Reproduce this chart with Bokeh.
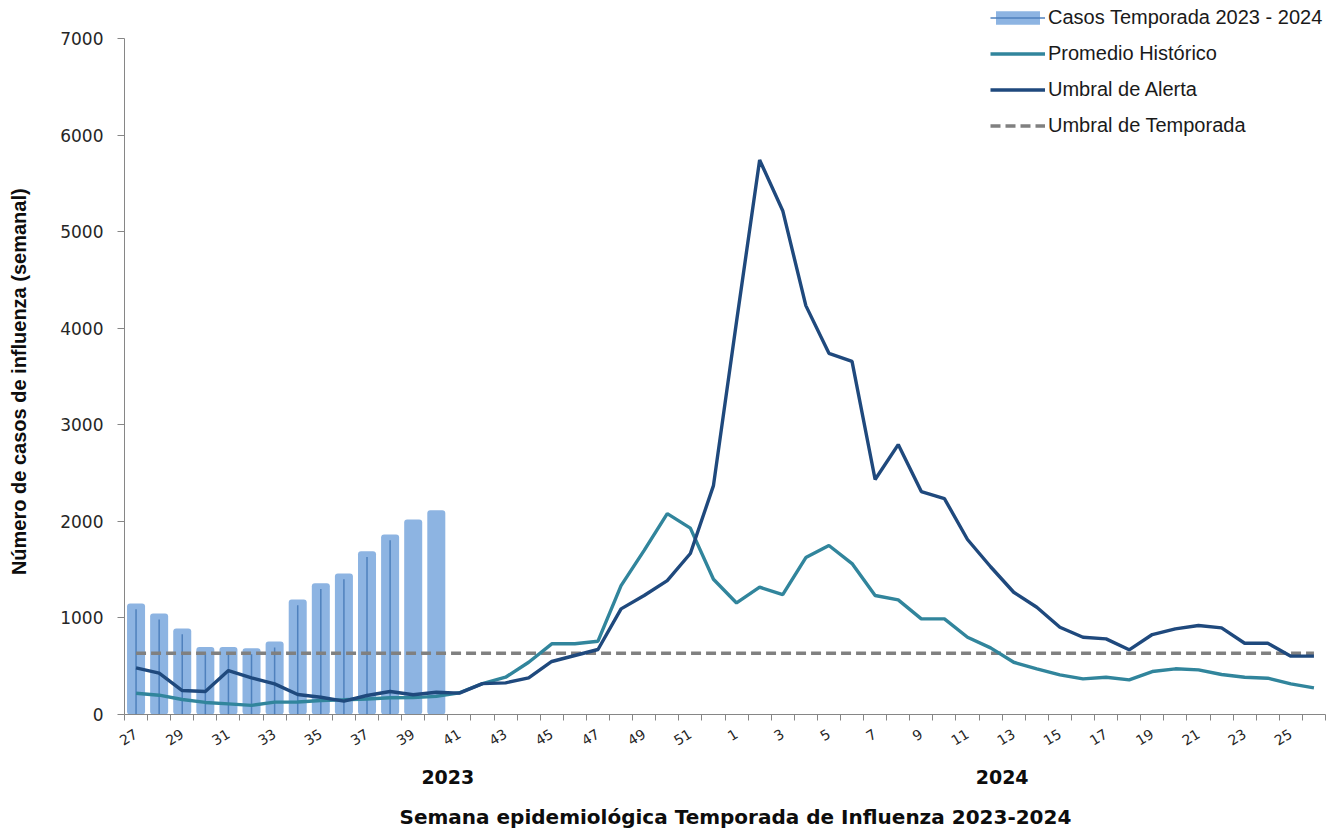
from bokeh.plotting import figure
from bokeh.models import Range1d, FixedTicker, LinearAxis, Legend, LegendItem
from bokeh.embed import file_html
from bokeh.resources import INLINE

# ---------------- data ----------------
weeks = list(range(27, 53)) + list(range(1, 27))

casos = [1150, 1045, 890, 700, 700, 685, 755, 1190, 1360, 1460, 1690, 1865, 2020, 2115]
casos_marked = 12  # bars that show the inner line

promedio = [220, 200, 155, 125, 110, 95, 128, 130, 145, 152, 160, 173, 175, 188,
            225, 320, 386, 541, 732, 732, 759, 1335, 1700, 2080, 1930, 1400,
            1155, 1318, 1242, 1625, 1750, 1563, 1232, 1187, 990, 990, 800, 690,
            541, 473, 411, 369, 386, 359, 445, 473, 462, 414, 386, 376, 317, 276]

alerta = [483, 428, 248, 238, 455, 380, 317, 207, 179, 138, 197, 238, 204, 231,
          221, 320, 328, 380, 549, 611, 673, 1094, 1232, 1387, 1667, 2370,
          4070, 5742, 5217, 4234, 3740, 3657, 2433, 2795, 2308, 2236, 1812, 1530,
          1266, 1111, 904, 800, 783, 670, 828, 887, 921, 897, 738, 738, 604, 604]

umbral_temporada = 633

year_labels = ["2023", "2024"]
y_ticks = [0, 1000, 2000, 3000, 4000, 5000, 6000, 7000]
y_max = 7000

x = list(range(len(weeks)))
x_bars = x[:len(casos)]

NBSP = "\u00a0"

# ---------------- figure ----------------
axis_px = 676          # pixels from 0 to y_max
frame_h = 710          # frame extends above y_max to hold the legend
p = figure(frame_width=1201, frame_height=frame_h,
           x_range=Range1d(-0.5, len(weeks) - 0.5),
           y_range=Range1d(0, y_max * frame_h / axis_px),
           output_backend="svg", toolbar_location=None,
           min_border_left=124, min_border_top=4, min_border_right=8, min_border_bottom=60)
p.xgrid.visible = False
p.ygrid.visible = False
p.outline_line_color = None
p.background_fill_color = "white"

bars = p.vbar(x=x_bars, top=casos, width=0.78, fill_color="#8DB4E2", line_color=None,
              border_radius=3)
segs = p.segment(x0=x_bars[:casos_marked], y0=[0] * casos_marked,
                 x1=x_bars[:casos_marked], y1=[c - 60 for c in casos[:casos_marked]],
                 line_color="#4F81BD", line_width=1.5)
dash = p.line(x, [umbral_temporada] * len(x), line_color="#808080", line_width=3.5,
              line_dash="10 5")
teal = p.line(x, promedio, line_color="#31859C", line_width=3.4)
navy = p.line(x, alerta, line_color="#1F497D", line_width=3.4)

# x axis (weeks)
xa = p.xaxis[0]
xa.ticker = FixedTicker(ticks=list(range(0, len(weeks), 2)),
                        minor_ticks=[i - 0.5 for i in range(len(weeks) + 1)])
xa.major_label_overrides = {i: str(weeks[i]) for i in range(0, len(weeks), 2)}
xa.major_label_orientation = 0.55
xa.major_tick_line_color = None
xa.major_tick_out = 6
xa.minor_tick_out = 6
xa.minor_tick_in = 0
xa.minor_tick_line_color = "#868686"
xa.axis_line_color = "#868686"
xa.major_label_standoff = 12
xa.major_label_text_font = "DejaVu Sans"
xa.major_label_text_font_size = "14px"
xa.major_label_text_color = "#262626"

# second x axis: years + title
year_pos = [13.5, 37.5]
xa2 = LinearAxis(ticker=FixedTicker(ticks=year_pos, minor_ticks=[]),
                 major_label_overrides={year_pos[i]: year_labels[i] for i in range(2)},
                 axis_line_color=None, major_tick_line_color=None,
                 minor_tick_line_color=None, major_tick_out=0, major_tick_in=0,
                 major_label_standoff=16,
                 major_label_text_font="DejaVu Sans", major_label_text_font_style="bold",
                 major_label_text_font_size="19px", major_label_text_color="#0d0d0d",
                 axis_label=NBSP * 3 + "Semana epidemiológica Temporada de Influenza 2023-2024",
                 axis_label_text_font="DejaVu Sans", axis_label_text_font_style="bold",
                 axis_label_text_font_size="20px", axis_label_text_color="#0d0d0d",
                 axis_label_standoff=18)
p.add_layout(xa2, "below")

# y axis
ya = p.yaxis[0]
ya.bounds = (0, y_max)
ya.ticker = FixedTicker(ticks=y_ticks, minor_ticks=[])
ya.major_tick_out = 7
ya.major_tick_in = 0
ya.major_tick_line_color = "#868686"
ya.axis_line_color = "#868686"
ya.major_label_standoff = 14
ya.major_label_text_font = "DejaVu Sans"
ya.major_label_text_font_size = "17px"
ya.major_label_text_color = "#262626"
ya.axis_label = "Número de casos de influenza (semanal)" + NBSP * 8
ya.axis_label_text_font = "Liberation Sans"
ya.axis_label_text_font_style = "bold"
ya.axis_label_text_font_size = "20px"
ya.axis_label_text_color = "#0d0d0d"
ya.axis_label_standoff = 27

legend = Legend(items=[
    LegendItem(label="Casos Temporada 2023 - 2024", renderers=[bars, segs]),
    LegendItem(label="Promedio Histórico", renderers=[teal]),
    LegendItem(label="Umbral de Alerta", renderers=[navy]),
    LegendItem(label="Umbral de Temporada", renderers=[dash]),
], location=(866, 577), orientation="vertical", border_line_color=None,
    background_fill_alpha=0, glyph_width=55, glyph_height=17, label_standoff=3,
    label_text_font="Liberation Sans", label_text_font_size="20px",
    label_text_color="#1a1a1a", spacing=13, padding=0, margin=0)
p.add_layout(legend)

open("out.html", "w").write(file_html(p, INLINE))
